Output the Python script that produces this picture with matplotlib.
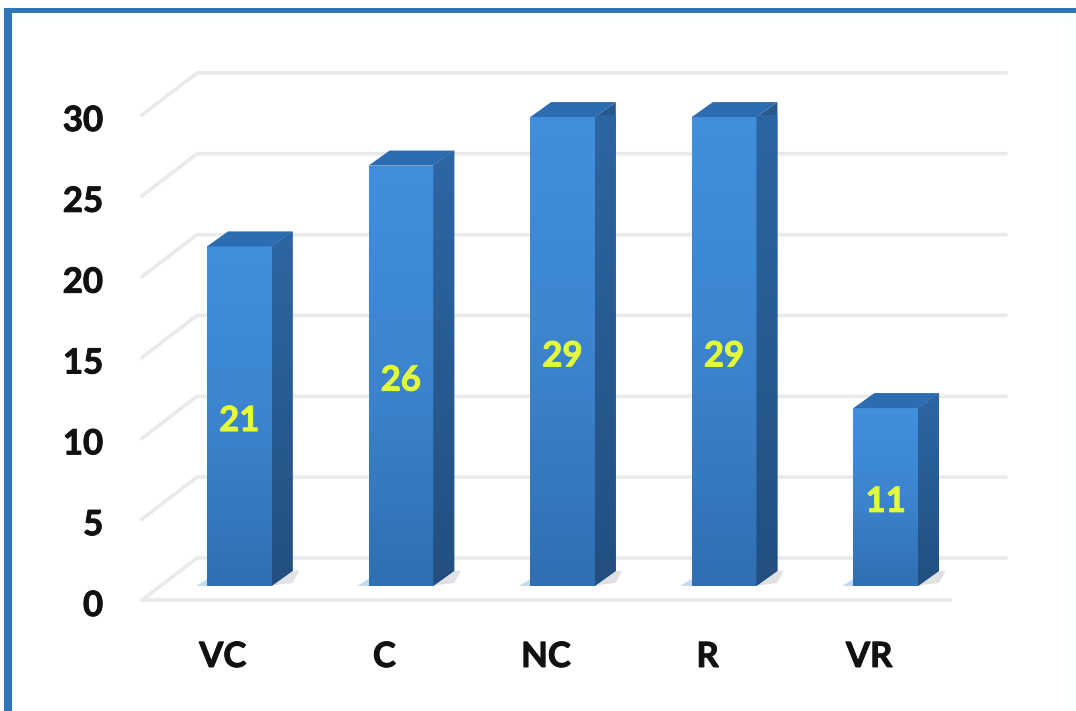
import numpy as np
import matplotlib
matplotlib.use("Agg")
import matplotlib.pyplot as plt
import matplotlib.patheffects as pe
from matplotlib.colors import LinearSegmentedColormap
from matplotlib.patches import Polygon, Rectangle
from matplotlib.transforms import ScaledTranslation

categories = ["VC", "C", "NC", "R", "VR"]
values = [21, 26, 29, 29, 11]
y_ticks = [0, 5, 10, 15, 20, 25, 30]

W, H = 1076, 711
plt.rcParams['font.family'] = ['Lato', 'DejaVu Sans']
fig = plt.figure(figsize=(W / 100, H / 100), dpi=100, facecolor="#fbfeff")

# picture frame
fig.patches.append(Rectangle((16 / W, 0), (W - 26) / W, 1 - 22 / H, transform=fig.transFigure,
                             fc="white", ec="none", zorder=-5))
fig.patches.append(Rectangle((4 / W, 0), 8 / W, 1 - 9 / H, transform=fig.transFigure,
                             fc="#2e75b6", ec="none", zorder=-4))
fig.patches.append(Rectangle((4 / W, 1 - 13 / H), (W - 4) / W, 5 / H, transform=fig.transFigure,
                             fc="#2e75b6", ec="none", zorder=-4))

ax = fig.add_axes([142 / W, 1 - 600 / H, 808 / W, 485 / H])
ax.patch.set_alpha(0)
for s in ax.spines.values():
    s.set_visible(False)
ax.set_xlim(-0.5, 4.5)
ax.set_ylim(0, 30)
x = np.arange(len(categories))
ax.set_xticks(x, categories)
ax.set_yticks(y_ticks)
ax.tick_params(axis='x', length=0, pad=29.5, labelsize=25, labelcolor="#111111")
ax.tick_params(axis='y', length=0, pad=28, labelsize=25, labelcolor="#111111")
heavy = [pe.withStroke(linewidth=0.7, foreground="#111111")]
for lab in ax.get_xticklabels() + ax.get_yticklabels():
    lab.set_fontweight('bold')
    lab.set_path_effects(heavy)
nudge = ScaledTranslation(0, -3 / 100, fig.dpi_scale_trans)
for lab in ax.get_yticklabels():
    lab.set_transform(lab.get_transform() + nudge)

# 3D-look geometry (in axis units)
wall_dx, wall_dy = 0.34, 2.6
grid_right = 4.845
bar_shift, bar_w = 0.102, 0.40
base = 0.87
depth_x, depth_y = 0.13, 0.93

grid_c = "#e9eaeb"
for v in y_ticks:
    ax.plot([-0.5, -0.5 + wall_dx, grid_right], [v, v + wall_dy, v + wall_dy],
            color=grid_c, lw=2.6, clip_on=False, zorder=1, solid_joinstyle='miter')
ax.plot([-0.5, 4.5], [0, 0], color=grid_c, lw=2.6, clip_on=False, zorder=1)

front_cm = LinearSegmentedColormap.from_list("f", ["#418fdd", "#3c85ce", "#2f6fb2"])
side_cm = LinearSegmentedColormap.from_list("s", ["#2d66a4", "#234f80"])
grad = np.linspace(0, 1, 256).reshape(-1, 1)

for xi, v in zip(x, values):
    x0 = xi + bar_shift - bar_w / 2
    x1 = x0 + bar_w
    t = base + v
    # floor shadow
    ax.add_patch(Polygon([(x1 - .02, base), (x1 + depth_x, base + depth_y * .2),
                          (x1 + depth_x + .04, base + depth_y), (x1 + depth_x - .02, base + depth_y)],
                         fc="#e0e1e4", ec="none", zorder=2, clip_on=False))
    ax.add_patch(Polygon([(x0 - .07, base), (x0 + .01, base), (x0 + .01, base + .5)],
                         fc="#c4dcf2", ec="none", zorder=2, clip_on=False))
    # front face
    bar = ax.bar(xi + bar_shift, v, width=bar_w, bottom=base, color="#3a80c8", zorder=3)[0]
    im = ax.imshow(grad, cmap=front_cm, aspect='auto', extent=(x0, x1, base, t),
                   origin='upper', zorder=3.1, interpolation='bilinear')
    im.set_clip_path(bar)
    # side face
    side = Polygon([(x1, base), (x1 + depth_x, base + depth_y), (x1 + depth_x, t + depth_y), (x1, t)],
                   fc="#28598f", ec="none", zorder=3, clip_on=False)
    ax.add_patch(side)
    im2 = ax.imshow(grad, cmap=side_cm, aspect='auto',
                    extent=(x1, x1 + depth_x, base, t + depth_y),
                    origin='upper', zorder=3.1, interpolation='bilinear')
    im2.set_clip_path(side)
    # top face
    ax.add_patch(Polygon([(x0, t), (x1, t), (x1 + depth_x, t + depth_y), (x0 + depth_x, t + depth_y)],
                         fc="#2c6cb0", ec="none", zorder=3.2, clip_on=False))
    ax.text(xi + bar_shift, base + v / 2 - 0.3, str(v), ha='center', va='center',
            fontsize=25, fontweight='bold', color="#e4fb3a", zorder=5,
            path_effects=[pe.withStroke(linewidth=0.7, foreground="#e4fb3a")])

ax.set_xlim(-0.5, 4.5)
ax.set_ylim(0, 30)
fig.savefig("out.png", dpi=100, facecolor=fig.get_facecolor())
